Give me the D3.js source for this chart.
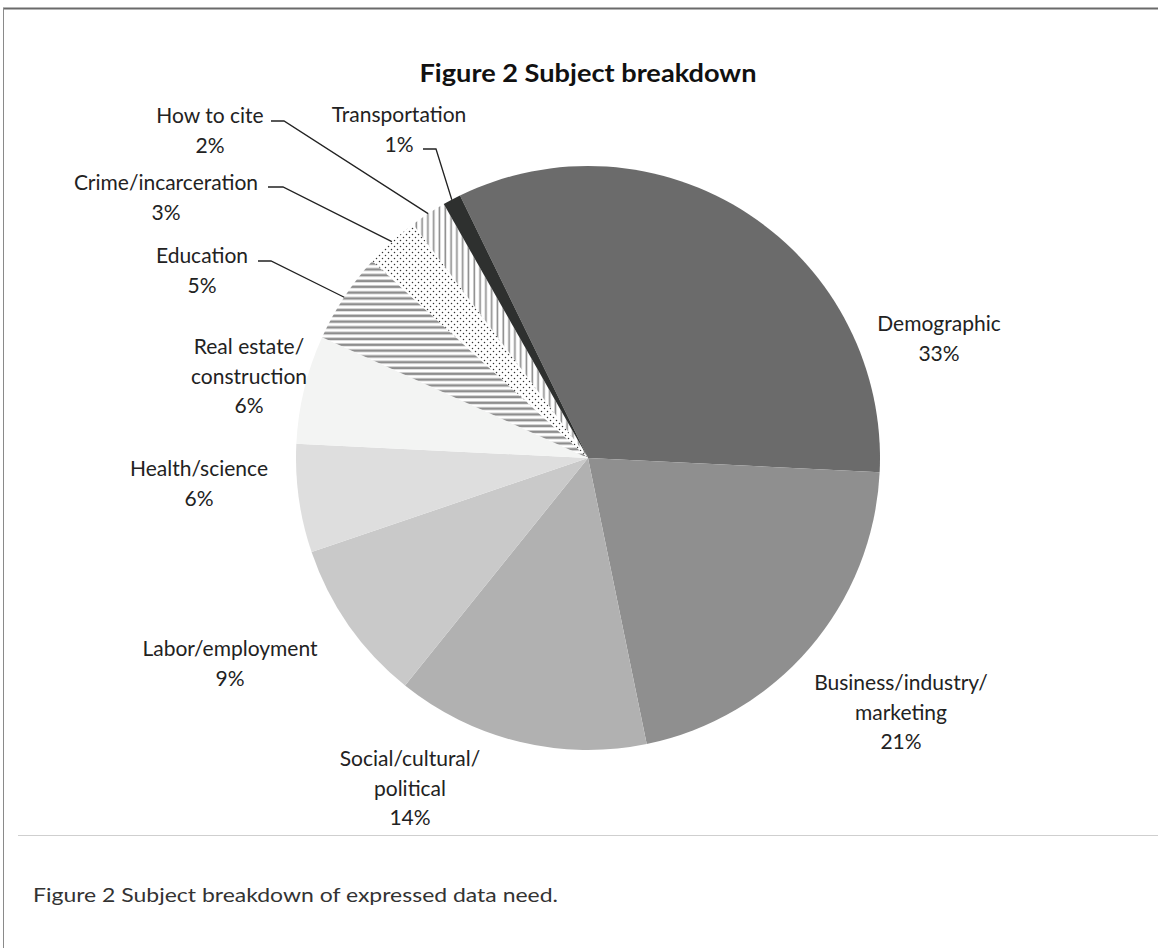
<!DOCTYPE html>
<html lang="en">
<head>
	<meta charset="utf-8">
	<title>Figure 2 Subject breakdown</title>
	<script src="https://d3js.org/d3.v7.min.js"></script>
	<style>
		body { margin: 0; background: #fff; }
		text { font-family: Lato, "Open Sans", sans-serif; fill: #222; }
	</style>
</head>
<body>
	<script>
	// chart data
	var subjects = ["Demographic", "Business/industry/marketing", "Social/cultural/political",
		"Labor/employment", "Health/science", "Real estate/construction", "Education",
		"Crime/incarceration", "How to cite", "Transportation"];
	var percents = [33, 21, 14, 9, 6, 6, 5, 3, 2, 1];
	// label lines as printed
	var labelLines = [
		["Demographic", "33%"],
		["Business/industry/", "marketing", "21%"],
		["Social/cultural/", "political", "14%"],
		["Labor/employment", "9%"],
		["Health/science", "6%"],
		["Real estate/", "construction", "6%"],
		["Education", "5%"],
		["Crime/incarceration", "3%"],
		["How to cite", "2%"],
		["Transportation", "1%"]
	];

	// layout
	var w = 1158, h = 948;
	var cx = 588, cy = 458, r = 292;
	var startDeg = -26;
	var lineH = 29.5;
	// label anchor (center x, first baseline y) and leader line start for small slices
	var labelAt = [
		[939, 331], [901, 690], [410, 766], [230, 656], [199, 476],
		[249, 354], [202, 263], [166, 190], [210, 123], [399, 122]
	];
	var leaderFrom = {6: [258, 261, 271], 7: [268, 187, 283], 8: [271, 121, 284], 9: [423, 149, 436]};

	var fills = ["#6b6b6b", "#8f8f8f", "#b1b1b1", "#c9c9c9", "#dedede", "#f3f4f3",
		"url(#hstripe)", "url(#dots)", "url(#vstripe)", "#2e302f"];

	var svg = d3.select("body").append("svg")
		.attr("width", w)
		.attr("height", h);

	// patterns
	var defs = svg.append("defs");
	var hp = defs.append("pattern").attr("id", "hstripe")
		.attr("patternUnits", "userSpaceOnUse").attr("width", 6).attr("height", 5.8);
	hp.append("rect").attr("width", 6).attr("height", 5.8).attr("fill", "#fff");
	hp.append("rect").attr("y", 1.5).attr("width", 6).attr("height", 2.6).attr("fill", "#8e8e8e");

	var vp = defs.append("pattern").attr("id", "vstripe")
		.attr("patternUnits", "userSpaceOnUse").attr("width", 5.8).attr("height", 6);
	vp.append("rect").attr("width", 5.8).attr("height", 6).attr("fill", "#fff");
	vp.append("rect").attr("x", 1.5).attr("width", 1.6).attr("height", 6).attr("fill", "#8a8a8a");

	var dp = defs.append("pattern").attr("id", "dots")
		.attr("patternUnits", "userSpaceOnUse").attr("width", 6).attr("height", 6);
	dp.append("rect").attr("width", 6).attr("height", 6).attr("fill", "#fff");
	dp.append("circle").attr("cx", 1.5).attr("cy", 1.5).attr("r", 0.75).attr("fill", "#333");
	dp.append("circle").attr("cx", 4.5).attr("cy", 4.5).attr("r", 0.75).attr("fill", "#333");

	// frame
	svg.append("line").attr("x1", 3).attr("y1", 8.5).attr("x2", w).attr("y2", 8.5)
		.attr("stroke", "#6a6a6a").attr("stroke-width", 2);
	svg.append("line").attr("x1", 3.5).attr("y1", 8).attr("x2", 3.5).attr("y2", h)
		.attr("stroke", "#8a8a8a").attr("stroke-width", 1);
	svg.append("line").attr("x1", 18).attr("y1", 835.5).attr("x2", w).attr("y2", 835.5)
		.attr("stroke", "#cfcfcf").attr("stroke-width", 1);

	// title
	svg.append("text")
		.attr("x", cx).attr("y", 82)
		.attr("text-anchor", "middle")
		.attr("textLength", 337)
		.attr("lengthAdjust", "spacingAndGlyphs")
		.style("font-size", "24px")
		.style("font-weight", "bold")
		.style("fill", "#111")
		.text("Figure 2 Subject breakdown");

	var data = subjects.map(function(s, i) { return {name: s, value: percents[i], i: i}; });

	var pie = d3.pie()
		.sort(null)
		.value(function(d) { return d.value; })
		.startAngle(startDeg * Math.PI / 180)
		.endAngle((startDeg + 360) * Math.PI / 180);

	var arc = d3.arc().innerRadius(0).outerRadius(r);
	var arcs = pie(data);

	var g = svg.append("g").attr("transform", "translate(" + cx + "," + cy + ")");
	g.selectAll("path")
		.data(arcs)
		.enter()
		.append("path")
		.attr("d", arc)
		.attr("fill", function(d) { return fills[d.data.i]; });

	// leader lines for the thin slices
	arcs.forEach(function(d) {
		var lf = leaderFrom[d.data.i];
		if (!lf) return;
		var a = (d.startAngle + d.endAngle) / 2;
		var ex = cx + r * Math.sin(a), ey = cy - r * Math.cos(a);
		svg.append("polyline")
			.attr("points", [[lf[0], lf[1]], [lf[2], lf[1]], [ex, ey]].join(" "))
			.attr("fill", "none")
			.attr("stroke", "#222")
			.attr("stroke-width", 1.3);
	});

	// labels
	labelLines.forEach(function(lines, i) {
		var t = svg.append("text")
			.attr("text-anchor", "middle")
			.style("font-size", "21px");
		lines.forEach(function(s, k) {
			t.append("tspan")
				.attr("x", labelAt[i][0])
				.attr("y", labelAt[i][1] + k * lineH)
				.text(s);
		});
	});

	// caption
	svg.append("text")
		.attr("x", 33).attr("y", 902)
		.attr("textLength", 525)
		.attr("lengthAdjust", "spacingAndGlyphs")
		.style("font-size", "19px")
		.style("fill", "#333")
		.text("Figure 2 Subject breakdown of expressed data need.");
	</script>
</body>
</html>
